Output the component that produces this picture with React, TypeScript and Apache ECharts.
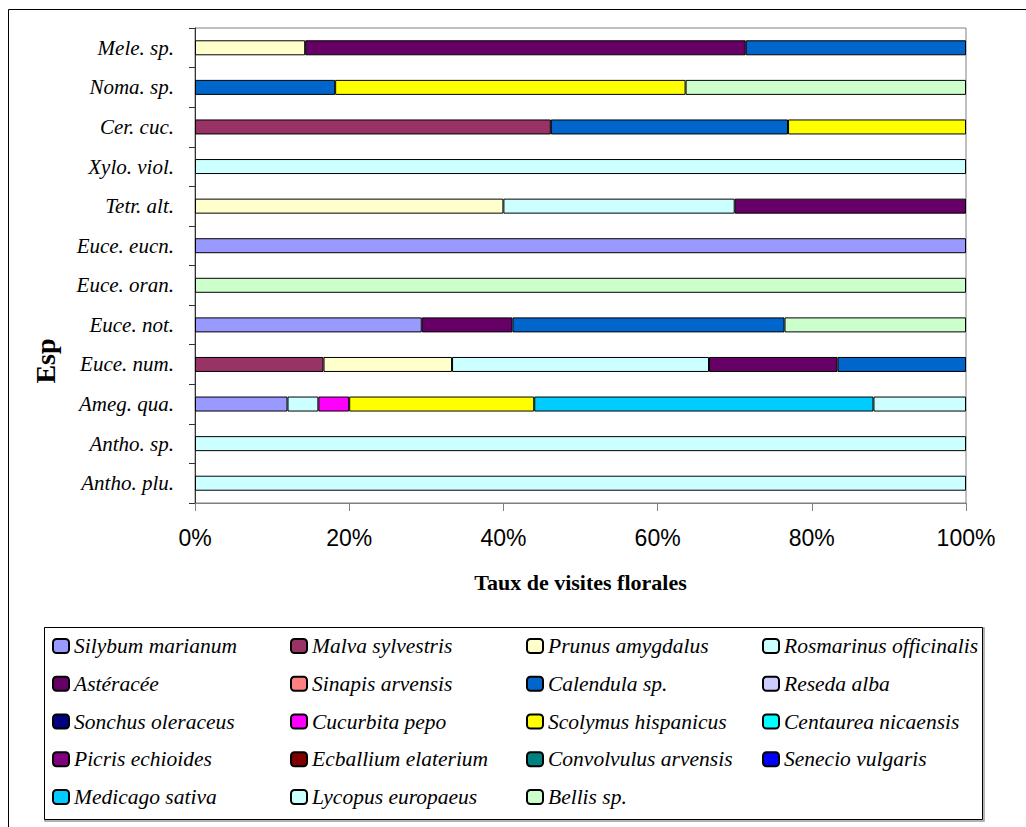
import React, { useEffect, useRef } from "react";
import * as echarts from "echarts";

// Insect taxa (rows, top to bottom)
const categories = [
  "Mele. sp.",
  "Noma. sp.",
  "Cer. cuc.",
  "Xylo. viol.",
  "Tetr. alt.",
  "Euce. eucn.",
  "Euce. oran.",
  "Euce. not.",
  "Euce. num.",
  "Ameg. qua.",
  "Antho. sp.",
  "Antho. plu.",
];

// Share of floral visits (%) per plant species, one value per row above
const silybumMarianum = [0, 0, 0, 0, 0, 100, 0, 29.41, 0, 12, 0, 0];
const malvaSylvestris = [0, 0, 46.15, 0, 0, 0, 0, 0, 16.67, 0, 0, 0];
const prunusAmygdalus = [14.29, 0, 0, 0, 40, 0, 0, 0, 16.67, 0, 0, 0];
const rosmarinusOfficinalis = [0, 0, 0, 100, 30, 0, 0, 0, 33.33, 4, 100, 100];
const asteracee = [57.14, 0, 0, 0, 30, 0, 0, 11.76, 16.67, 0, 0, 0];
const sinapisArvensis = [0, 0, 0, 0, 0, 0, 0, 0, 0, 0, 0, 0];
const calendulaSp = [28.57, 18.18, 30.77, 0, 0, 0, 0, 35.29, 16.66, 0, 0, 0];
const resedaAlba = [0, 0, 0, 0, 0, 0, 0, 0, 0, 0, 0, 0];
const sonchusOleraceus = [0, 0, 0, 0, 0, 0, 0, 0, 0, 0, 0, 0];
const cucurbitaPepo = [0, 0, 0, 0, 0, 0, 0, 0, 0, 4, 0, 0];
const scolymusHispanicus = [0, 45.45, 23.08, 0, 0, 0, 0, 0, 0, 24, 0, 0];
const centaureaNicaensis = [0, 0, 0, 0, 0, 0, 0, 0, 0, 0, 0, 0];
const picrisEchioides = [0, 0, 0, 0, 0, 0, 0, 0, 0, 0, 0, 0];
const ecballiumElaterium = [0, 0, 0, 0, 0, 0, 0, 0, 0, 0, 0, 0];
const convolvulusArvensis = [0, 0, 0, 0, 0, 0, 0, 0, 0, 0, 0, 0];
const senecioVulgaris = [0, 0, 0, 0, 0, 0, 0, 0, 0, 0, 0, 0];
const medicagoSativa = [0, 0, 0, 0, 0, 0, 0, 0, 0, 44, 0, 0];
const lycopusEuropaeus = [0, 0, 0, 0, 0, 0, 0, 0, 0, 12, 0, 0];
const bellisSp = [0, 36.37, 0, 0, 0, 0, 100, 23.54, 0, 0, 0, 0];

const xTickLabels = ["0%", "20%", "40%", "60%", "80%", "100%"];

const plants = [
  { name: "Silybum marianum", color: "#9999FF", values: silybumMarianum },
  { name: "Malva sylvestris", color: "#993366", values: malvaSylvestris },
  { name: "Prunus amygdalus", color: "#FFFFCC", values: prunusAmygdalus },
  { name: "Rosmarinus officinalis", color: "#CCFFFF", values: rosmarinusOfficinalis },
  { name: "Astéracée", color: "#660066", values: asteracee },
  { name: "Sinapis arvensis", color: "#FF8080", values: sinapisArvensis },
  { name: "Calendula sp.", color: "#0066CC", values: calendulaSp },
  { name: "Reseda alba", color: "#CCCCFF", values: resedaAlba },
  { name: "Sonchus oleraceus", color: "#000080", values: sonchusOleraceus },
  { name: "Cucurbita pepo", color: "#FF00FF", values: cucurbitaPepo },
  { name: "Scolymus hispanicus", color: "#FFFF00", values: scolymusHispanicus },
  { name: "Centaurea nicaensis", color: "#00FFFF", values: centaureaNicaensis },
  { name: "Picris echioides", color: "#800080", values: picrisEchioides },
  { name: "Ecballium elaterium", color: "#800000", values: ecballiumElaterium },
  { name: "Convolvulus arvensis", color: "#008080", values: convolvulusArvensis },
  { name: "Senecio vulgaris", color: "#0000FF", values: senecioVulgaris },
  { name: "Medicago sativa", color: "#00CCFF", values: medicagoSativa },
  { name: "Lycopus europaeus", color: "#CCFFFF", values: lycopusEuropaeus },
  { name: "Bellis sp.", color: "#CCFFCC", values: bellisSp },
];

const SERIF = "'Liberation Serif', 'Times New Roman', serif";
const SANS = "'Liberation Sans', Arial, sans-serif";

export default function App() {
  const ref = useRef<HTMLDivElement>(null);

  useEffect(() => {
    if (!ref.current) return;
    const chart = echarts.init(ref.current, null, { renderer: "svg" });

    // legend laid out as four columns, filled row by row
    const legendCols = [0, 1, 2, 3].map((c) =>
      plants.filter((_, i) => i % 4 === c).map((p) => p.name)
    );
    const legendLeft = [52, 290, 526, 762];

    const series = plants.map((p) => ({
      name: p.name,
      type: "bar",
      stack: "total",
      barWidth: 15,
      itemStyle: { color: p.color, borderColor: "#000", borderWidth: 1 },
      emphasis: { disabled: true },
      data: p.values.map((v) => (v > 0 ? v : "-")),
    }));

    chart.setOption({
      animation: false,
      backgroundColor: "#fff",
      grid: {
        left: 195,
        right: 60,
        top: 28,
        bottom: 324,
        show: true,
        borderColor: "#808080",
        borderWidth: 1,
        backgroundColor: "transparent",
      },
      xAxis: {
        type: "value",
        min: 0,
        max: 100,
        interval: 20,
        name: "Taux de visites florales",
        nameLocation: "middle",
        nameGap: 68,
        nameTextStyle: { fontFamily: SERIF, fontWeight: "bold", fontSize: 22, color: "#000" },
        axisLine: { show: true, lineStyle: { color: "#808080", width: 1 } },
        axisTick: { show: true, length: 8, lineStyle: { color: "#808080" } },
        splitLine: { show: false },
        axisLabel: {
          margin: 23,
          fontFamily: SANS,
          fontSize: 23,
          color: "#000",
          formatter: (v: number) => xTickLabels[Math.round(v / 20)],
        },
      },
      yAxis: {
        type: "category",
        data: categories,
        inverse: true,
        axisLine: { show: true, lineStyle: { color: "#333", width: 1 } },
        axisTick: { show: true, length: 6, lineStyle: { color: "#333" } },
        axisLabel: {
          margin: 21,
          fontFamily: SERIF,
          fontStyle: "italic",
          fontSize: 21,
          color: "#000",
        },
      },
      legend: legendCols.map((names, c) => ({
        data: names,
        orient: "vertical",
        left: legendLeft[c],
        top: 634,
        itemWidth: 16,
        itemHeight: 14,
        itemGap: 13.75,
        selectedMode: false,
        padding: 0,
        textStyle: {
          fontFamily: SERIF,
          fontStyle: "italic",
          fontSize: 21.5,
          lineHeight: 24,
          color: "#000",
        },
      })),
      graphic: [
        {
          type: "rect",
          silent: true,
          shape: { x: 8.5, y: 9.5, width: 1100, height: 1000 },
          style: { fill: "none", stroke: "#000", lineWidth: 1 },
          z: -10,
        },
        {
          type: "rect",
          silent: true,
          shape: { x: 45, y: 628, width: 939, height: 193 },
          style: { fill: "none", stroke: "#9a9a9a", lineWidth: 1.5 },
          z: -10,
        },
        {
          type: "rect",
          silent: true,
          shape: { x: 44.5, y: 627.5, width: 938, height: 192 },
          style: { fill: "#fff", stroke: "#000", lineWidth: 1 },
          z: -9,
        },
        {
          type: "text",
          silent: true,
          x: 45,
          y: 361,
          rotation: Math.PI / 2,
          style: {
            text: "Esp",
            fontFamily: SERIF,
            fontWeight: "bold",
            fontSize: 28,
            fill: "#000",
            align: "center",
            verticalAlign: "middle",
          },
        },
      ],
      series,
    });

    return () => chart.dispose();
  }, []);

  return (
    <div
      ref={ref}
      style={{ position: "fixed", left: 0, top: 0, width: 1026, height: 827 }}
    />
  );
}
